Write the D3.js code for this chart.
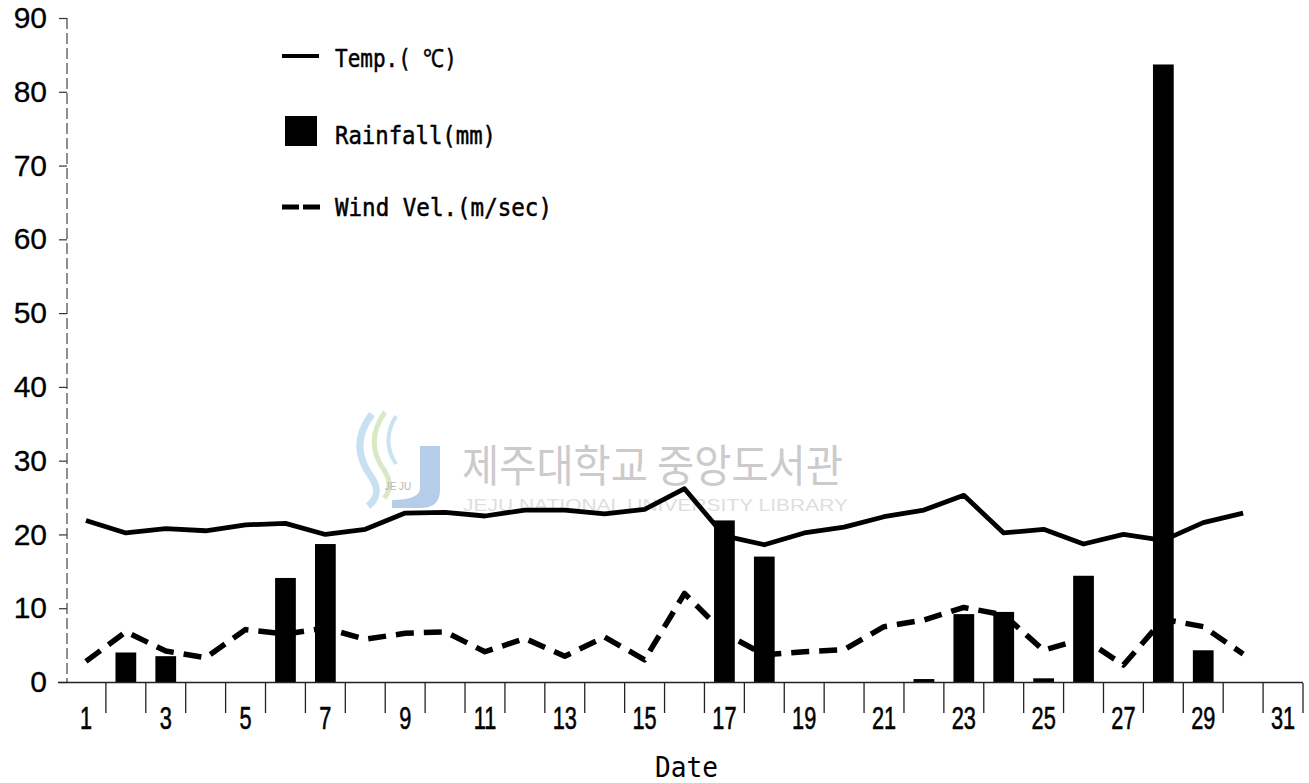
<!DOCTYPE html>
<html>
<head>
<meta charset="utf-8">
<script src="https://cdn.jsdelivr.net/npm/d3@7"></script>
<style>
  html, body { margin: 0; padding: 0; background: #fff; }
  svg { display: block; }
</style>
</head>
<body>
<svg id="chart" width="1309" height="783"></svg>
<script>
// Daily weather for one month: temperature, rainfall, wind velocity
const days = d3.range(1, 32);
const tempDays = d3.range(1, 31);
const temperature = [21.9, 20.2, 20.8, 20.5, 21.3, 21.5, 20.0, 20.7, 22.9, 23.0,
                     22.5, 23.3, 23.3, 22.8, 23.4, 26.2, 19.8, 18.6, 20.2, 21.0,
                     22.4, 23.3, 25.3, 20.2, 20.7, 18.7, 20.0, 19.2, 21.6, 22.9];
const windVelocity = [2.8, 6.8, 4.2, 3.3, 7.1, 6.5, 7.3, 5.8, 6.6, 6.8,
                      4.1, 5.9, 3.5, 6.1, 3.0, 12.0, 6.6, 3.7, 4.1, 4.4,
                      7.5, 8.4, 10.1, 9.1, 4.3, 5.9, 2.3, 8.5, 7.5, 3.8];
const rainfall = [0, 4.0, 3.5, 0, 0, 14.1, 18.7, 0, 0, 0,
                  0, 0, 0, 0, 0, 0, 21.9, 17.0, 0, 0,
                  0, 0.4, 9.2, 9.5, 0.5, 14.4, 0, 83.7, 4.3, 0, 0];
const yTicks = [0, 10, 20, 30, 40, 50, 60, 70, 80, 90];
const xLabelDays = days.filter(d => d % 2 === 1);
const legendItems = ["Temp.( \u2103)", "Rainfall(mm)", "Wind Vel.(m/sec)"];
const xTitle = "Date";
const watermarkKo = "제주대학교 중앙도서관";
const watermarkEn = "JEJU NATIONAL UNIVERSITY LIBRARY";

const svg = d3.select("#chart");

const x = d3.scaleBand()
  .domain(days)
  .range([66, 1303])
  .paddingInner(0.48)
  .paddingOuter(0.24);
const step = x.step();
const cx = d => x(d) + x.bandwidth() / 2;

const y = d3.scaleLinear().domain([0, 90]).range([682, 18]);

// ---- faint library watermark behind the plot ----
const wm = svg.append("g").attr("class", "watermark");
wm.append("path")
  .attr("d", "M372,414 C352,440 360,462 372,478 C380,490 376,500 368,506")
  .attr("fill", "none").attr("stroke", "#b9d9ee").attr("stroke-width", 7).attr("opacity", 0.8);
wm.append("path")
  .attr("d", "M385,412 C368,436 374,456 384,470 C392,482 390,492 384,498")
  .attr("fill", "none").attr("stroke", "#cfe3b8").attr("stroke-width", 5).attr("opacity", 0.8);
wm.append("path")
  .attr("d", "M396,416 C384,436 388,452 396,464")
  .attr("fill", "none").attr("stroke", "#bcdcef").attr("stroke-width", 4).attr("opacity", 0.8);
wm.append("path")
  .attr("d", "M420,446 L440,446 L440,490 Q440,508 420,508 L392,508 L392,500 Q420,500 420,488 Z")
  .attr("fill", "#a9c4e6").attr("opacity", 0.85);
wm.append("text")
  .attr("x", 398).attr("y", 490).attr("text-anchor", "middle")
  .attr("font-family", "Liberation Sans, Arial, sans-serif").attr("font-size", 10)
  .attr("fill", "#b8b8b8").text("JE JU");
wm.append("text")
  .attr("x", 462).attr("y", 482)
  .attr("font-family", "'Noto Sans CJK KR', sans-serif").attr("font-size", 44)
  .attr("textLength", 381).attr("lengthAdjust", "spacingAndGlyphs")
  .attr("fill", "#cbcbcb").text(watermarkKo);
wm.append("text")
  .attr("x", 463).attr("y", 511)
  .attr("font-family", "Liberation Sans, Arial, sans-serif").attr("font-size", 17)
  .attr("textLength", 385).attr("lengthAdjust", "spacingAndGlyphs")
  .attr("fill", "#dedede").text(watermarkEn);

// ---- y axis ----
const yAxis = d3.axisLeft(y).tickValues(yTicks).tickSize(8).tickPadding(12).tickSizeOuter(0);
const gy = svg.append("g").attr("transform", "translate(67,0)").call(yAxis);
gy.select(".domain").remove();
gy.selectAll(".tick line").attr("stroke", "#333").attr("stroke-width", 1.2);
gy.selectAll(".tick text")
  .attr("font-family", "Liberation Sans, Arial, sans-serif")
  .attr("font-size", 30).attr("fill", "#000")
  .attr("stroke", "#000").attr("stroke-width", 0.3);
svg.append("line")
  .attr("x1", 67).attr("x2", 67).attr("y1", y(90)).attr("y2", y(0))
  .attr("stroke", "#444").attr("stroke-width", 1.2).attr("stroke-dasharray", "11,4");

// ---- rainfall bars ----
svg.append("g").selectAll("rect")
  .data(days.map((d, i) => ({ day: d, v: rainfall[i] })).filter(o => o.v > 0))
  .join("rect")
  .attr("x", o => x(o.day))
  .attr("width", x.bandwidth())
  .attr("y", o => y(o.v))
  .attr("height", o => y(0) - y(o.v))
  .attr("fill", "#000");

// ---- x axis ----
svg.append("line")
  .attr("x1", 58).attr("x2", x(31) + x.bandwidth() + step * 0.24)
  .attr("y1", y(0) + 0.5).attr("y2", y(0) + 0.5)
  .attr("stroke", "#222").attr("stroke-width", 1.5);
const boundaries = days.slice(1).map(d => x(d) - step * 0.24)
  .concat([x(31) + x.bandwidth() + step * 0.24]);
svg.append("g").selectAll("line")
  .data(boundaries)
  .join("line")
  .attr("x1", b => b).attr("x2", b => b)
  .attr("y1", y(0) + 1).attr("y2", y(0) + 31)
  .attr("stroke", "#222").attr("stroke-width", 1.3);
svg.append("g").selectAll("text")
  .data(xLabelDays)
  .join("text")
  .attr("transform", d => `translate(${cx(d)},729) scale(0.68,1)`)
  .attr("text-anchor", "middle")
  .attr("font-family", "Liberation Sans, Arial, sans-serif")
  .attr("font-size", 32)
  .attr("fill", "#000")
  .attr("stroke", "#000").attr("stroke-width", 0.6)
  .text(d => d);
svg.append("text")
  .attr("x", 655).attr("y", 777)
  .attr("font-family", "'DejaVu Sans Mono', 'Liberation Mono', monospace")
  .attr("font-size", 29)
  .attr("textLength", 63).attr("lengthAdjust", "spacingAndGlyphs")
  .attr("fill", "#000").text(xTitle);

// ---- temperature line ----
svg.append("path")
  .datum(tempDays.map((d, i) => [cx(d), y(temperature[i])]))
  .attr("d", d3.line())
  .attr("fill", "none").attr("stroke", "#000")
  .attr("stroke-width", 4.8).attr("stroke-linejoin", "round");

// ---- wind velocity line ----
svg.append("path")
  .datum(tempDays.map((d, i) => [cx(d), y(windVelocity[i])]))
  .attr("d", d3.line())
  .attr("fill", "none").attr("stroke", "#000")
  .attr("stroke-width", 5.5).attr("stroke-dasharray", "18,10")
  .attr("stroke-linejoin", "round");

// ---- legend ----
const lg = svg.append("g");
const legendFont = "'DejaVu Sans Mono', 'Liberation Mono', monospace";
lg.append("line").attr("x1", 282).attr("x2", 319).attr("y1", 56).attr("y2", 56)
  .attr("stroke", "#000").attr("stroke-width", 4);
lg.append("rect").attr("x", 285).attr("y", 116).attr("width", 32).attr("height", 30)
  .attr("fill", "#000");
lg.append("line").attr("x1", 282).attr("x2", 322).attr("y1", 207).attr("y2", 207)
  .attr("stroke", "#000").attr("stroke-width", 5).attr("stroke-dasharray", "17,4");
const legendY = [67, 144, 216];
const legendW = [122, 161, 217];
lg.selectAll("text")
  .data(legendItems)
  .join("text")
  .attr("x", 335)
  .attr("y", (d, i) => legendY[i])
  .attr("font-family", legendFont)
  .attr("font-size", 25)
  .attr("textLength", (d, i) => legendW[i])
  .attr("lengthAdjust", "spacingAndGlyphs")
  .attr("fill", "#000")
  .attr("stroke", "#000").attr("stroke-width", 0.5)
  .text(d => d);
</script>
</body>
</html>
